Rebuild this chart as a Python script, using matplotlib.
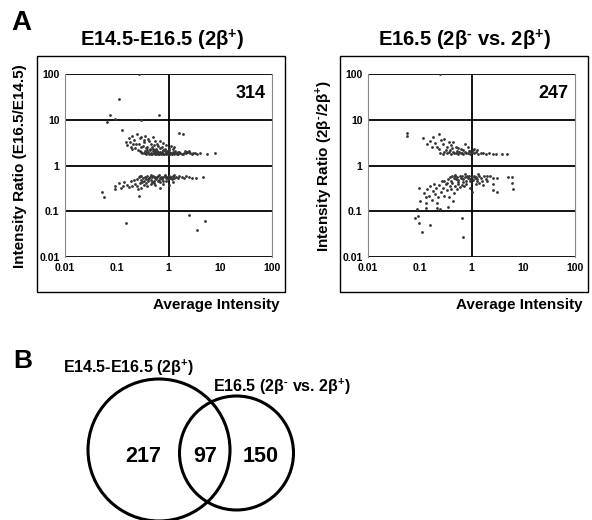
import matplotlib
matplotlib.use('Agg')
import matplotlib.pyplot as plt
from matplotlib.patches import Circle, Rectangle

plt.rcParams['font.family'] = ['Liberation Sans', 'DejaVu Sans']
plt.rcParams['font.weight'] = 'bold'
plt.rcParams['mathtext.fontset'] = 'custom'
plt.rcParams['mathtext.rm'] = 'Liberation Sans:bold'
plt.rcParams['mathtext.bf'] = 'Liberation Sans:bold'

# ---- data ----
decades = [0.01, 0.1, 1, 10, 100]
decade_labels = ['0.01', '0.1', '1', '10', '100']

# panel 1: E14.5-E16.5 (2b+), (average intensity, ratio)
left_up = [
    (0.27, 100), (0.11, 28), (0.074, 12.8), (0.065, 9.0), (0.092, 10.5), (0.29, 10.0),
    (0.66, 12.8), (0.126, 6.1), (1.6, 5.2), (1.9, 5.0),
    (0.15, 3.3), (0.17, 4.0), (0.18, 3.2), (0.19, 2.6), (0.2, 4.5), (0.2, 2.3), (0.22, 3.6),
    (0.23, 2.4), (0.24, 2.9), (0.25, 4.8), (0.26, 2.2), (0.27, 3.0), (0.28, 3.9), (0.3, 4.3),
    (0.3, 2.5), (0.32, 2.7), (0.33, 3.3), (0.35, 4.5), (0.36, 2.4), (0.38, 2.6), (0.4, 3.8),
    (0.42, 3.4), (0.45, 3.0), (0.48, 2.6), (0.5, 4.1), (0.52, 2.8), (0.55, 3.4), (0.6, 2.9),
    (0.62, 2.7), (0.7, 3.5), (0.75, 2.6), (0.8, 3.1), (0.9, 2.8), (1.1, 2.7), (1.3, 2.5),
    (0.16, 2.8), (0.21, 3.0), (0.34, 3.7), (0.44, 2.3), (0.58, 2.3), (0.68, 2.4), (0.85, 2.3),
    (1.0, 2.4), (1.2, 2.3),
    (0.3, 2.0), (0.33, 1.9), (0.35, 2.1), (0.37, 1.85), (0.4, 2.0), (0.42, 1.8), (0.44, 2.15),
    (0.46, 1.9), (0.48, 1.8), (0.5, 2.05), (0.52, 1.85), (0.55, 1.95), (0.58, 1.8), (0.6, 2.1),
    (0.63, 1.9), (0.66, 1.8), (0.7, 2.0), (0.73, 1.85), (0.76, 1.95), (0.8, 1.8), (0.84, 2.05),
    (0.88, 1.85), (0.92, 1.9), (0.96, 1.8), (1.0, 2.0), (1.05, 1.85), (1.1, 1.9), (1.15, 1.8),
    (1.2, 2.0), (1.3, 1.85), (1.4, 1.9), (1.5, 1.8), (1.6, 1.95), (1.7, 1.85), (1.8, 1.8),
    (2.0, 1.9), (2.2, 1.85), (2.4, 2.0), (2.6, 1.85), (2.8, 1.8), (3.0, 1.9), (3.5, 1.8),
    (4.0, 1.85), (5.5, 1.8), (8.0, 1.85), (2.5, 2.1), (3.2, 1.9),
    (0.36, 1.75), (0.45, 1.75), (0.54, 1.75), (0.62, 1.75), (0.72, 1.78), (0.82, 1.75),
    (0.9, 1.78), (1.08, 1.75), (1.25, 1.78), (1.45, 1.75), (1.9, 1.75), (0.38, 2.2), (0.5, 2.25),
    (0.56, 2.2), (0.64, 2.0), (0.78, 2.2), (0.94, 2.1), (1.02, 2.2), (1.35, 2.05), (1.55, 2.0),
    (2.1, 2.05), (2.3, 1.95), (0.28, 2.1), (0.31, 1.85),
]
left_down = [
    (0.052, 0.26), (0.057, 0.2), (0.27, 0.22), (0.15, 0.055), (2.49, 0.082), (5.0, 0.061),
    (3.5, 0.039), (4.6, 0.55), (3.4, 0.52), (0.093, 0.35), (0.093, 0.3), (0.68, 0.32),
    (0.11, 0.42), (0.13, 0.36), (0.16, 0.38), (0.19, 0.45), (0.2, 0.35), (0.23, 0.4), (0.12, 0.33),
    (0.14, 0.44), (0.17, 0.34), (0.22, 0.48), (0.25, 0.36), (0.28, 0.42), (0.3, 0.33), (0.33, 0.38),
    (0.38, 0.35), (0.45, 0.4), (0.55, 0.38), (0.8, 0.4), (1.0, 0.38), (1.2, 0.43), (0.26, 0.3),
    (0.25, 0.5), (0.27, 0.55), (0.29, 0.48), (0.3, 0.58), (0.32, 0.52), (0.34, 0.46), (0.35, 0.56),
    (0.37, 0.5), (0.39, 0.6), (0.4, 0.45), (0.42, 0.53), (0.44, 0.57), (0.46, 0.49), (0.48, 0.55),
    (0.5, 0.6), (0.52, 0.47), (0.54, 0.52), (0.56, 0.57), (0.58, 0.5), (0.6, 0.55), (0.63, 0.6),
    (0.66, 0.48), (0.7, 0.53), (0.73, 0.57), (0.76, 0.5), (0.8, 0.55), (0.84, 0.6), (0.88, 0.52),
    (0.92, 0.56), (0.96, 0.5), (1.0, 0.58), (1.05, 0.53), (1.1, 0.56), (1.15, 0.5), (1.2, 0.6),
    (1.3, 0.54), (1.4, 0.57), (1.5, 0.52), (1.6, 0.58), (1.8, 0.55), (2.0, 0.53), (2.2, 0.58),
    (2.5, 0.55), (2.8, 0.54), (0.31, 0.44), (0.36, 0.42), (0.41, 0.5), (0.47, 0.44), (0.53, 0.42),
    (0.62, 0.45), (0.68, 0.43), (0.78, 0.46), (0.9, 0.47), (0.28, 0.6), (0.45, 0.62), (0.65, 0.62),
    (0.86, 0.63), (1.25, 0.62),
]

# panel 2: E16.5 (2b- vs. 2b+)
right_up = [
    (0.25, 100), (0.057, 5.2), (0.057, 4.5), (0.236, 5.0), (0.115, 3.9), (0.16, 3.5),
    (0.14, 3.0), (0.18, 4.2), (0.2, 3.1), (0.22, 2.6), (0.26, 3.6), (0.28, 2.9), (0.3, 3.8),
    (0.33, 2.5), (0.36, 3.2), (0.4, 2.8), (0.44, 3.3), (0.5, 2.6), (0.56, 2.4), (0.75, 3.0),
    (0.93, 2.1), (0.17, 2.5), (0.24, 2.3), (0.32, 2.2), (0.42, 2.4), (0.62, 2.3), (0.85, 2.5),
    (1.1, 2.3), (1.3, 2.2),
    (0.25, 1.9), (0.28, 1.8), (0.3, 2.0), (0.33, 1.85), (0.36, 1.95), (0.4, 1.8), (0.43, 2.0),
    (0.46, 1.85), (0.5, 1.9), (0.54, 1.8), (0.58, 2.0), (0.62, 1.85), (0.66, 1.9), (0.7, 1.8),
    (0.75, 1.95), (0.8, 1.85), (0.86, 1.9), (0.92, 1.8), (1.0, 1.95), (1.1, 1.85), (1.2, 2.0),
    (1.35, 1.8), (1.5, 1.9), (1.7, 1.85), (1.9, 1.75), (2.2, 1.85), (2.6, 1.8), (3.0, 1.75),
    (3.8, 1.8), (4.9, 1.8), (0.38, 2.15), (0.52, 2.1), (0.68, 2.15), (0.88, 2.05), (1.05, 2.2),
]
right_down = [
    (0.081, 0.07), (0.092, 0.078), (0.095, 0.055), (0.11, 0.035), (0.16, 0.05), (0.66, 0.07),
    (0.68, 0.028), (0.088, 0.11), (0.097, 0.32), (0.1, 0.17), (0.13, 0.15), (0.135, 0.115),
    (0.22, 0.115), (0.25, 0.11), (0.35, 0.125),
    (2.28, 0.58), (2.6, 0.52), (3.1, 0.52), (6.0, 0.55), (6.0, 0.41), (6.4, 0.3), (3.1, 0.26),
    (2.6, 0.29), (2.6, 0.39), (5.0, 0.55),
    (0.12, 0.25), (0.13, 0.2), (0.14, 0.3), (0.15, 0.22), (0.16, 0.35), (0.17, 0.18), (0.18, 0.28),
    (0.19, 0.4), (0.2, 0.24), (0.21, 0.33), (0.23, 0.2), (0.24, 0.38), (0.26, 0.27), (0.28, 0.32),
    (0.3, 0.22), (0.32, 0.4), (0.34, 0.29), (0.36, 0.2), (0.38, 0.35), (0.4, 0.3), (0.42, 0.42),
    (0.45, 0.25), (0.48, 0.36), (0.52, 0.31), (0.56, 0.4), (0.6, 0.34), (0.65, 0.38), (0.72, 0.35),
    (0.8, 0.4), (0.95, 0.33), (1.0, 0.27), (1.2, 0.4), (1.4, 0.42), (1.7, 0.38), (2.0, 0.45),
    (0.27, 0.45), (0.44, 0.17), (0.22, 0.15),
    (0.35, 0.5), (0.38, 0.55), (0.4, 0.47), (0.42, 0.58), (0.45, 0.52), (0.48, 0.6), (0.5, 0.5),
    (0.53, 0.55), (0.56, 0.48), (0.6, 0.58), (0.63, 0.52), (0.66, 0.6), (0.7, 0.5), (0.74, 0.55),
    (0.78, 0.47), (0.82, 0.58), (0.86, 0.52), (0.9, 0.6), (0.95, 0.5), (1.0, 0.56), (1.05, 0.48),
    (1.1, 0.6), (1.15, 0.52), (1.2, 0.57), (1.3, 0.5), (1.4, 0.6), (1.5, 0.54), (1.6, 0.47),
    (1.75, 0.58), (1.9, 0.5), (2.0, 0.6), (0.3, 0.45), (0.33, 0.42), (0.55, 0.44), (0.68, 0.43),
    (0.92, 0.45), (1.25, 0.45), (0.47, 0.63), (0.75, 0.64), (1.35, 0.64),
]

PLUS = r'$^{+}$'
MINUS = r'$^{\text{-}}$'
panel_titles = ['E14.5-E16.5 (2β' + PLUS + ')', 'E16.5 (2β' + MINUS + ' vs. 2β' + PLUS + ')']
panel_ylabels = ['Intensity Ratio (E16.5/E14.5)', 'Intensity Ratio (2β' + MINUS + '/2β' + PLUS + ')']
panel_counts = ['314', '247']

venn_labels = panel_titles
venn_counts = [217, 97, 150]

# ---- figure ----
W, H = 592, 520
fig = plt.figure(figsize=(W / 100, H / 100), dpi=100)

# pixel canvas for boxes, labels and venn
canvas = fig.add_axes([0, 0, 1, 1])
canvas.set_xlim(0, W)
canvas.set_ylim(H, 0)
canvas.axis('off')

panels = [
    (left_up + left_down, 65, 37),
    (right_up + right_down, 368, 340),
]

for i, (pts, inner_x, box_x) in enumerate(panels):
    ax = fig.add_axes([inner_x / W, 1 - 257 / H, 207 / W, 183 / H])
    ax.set_xscale('log')
    ax.set_yscale('log')
    ax.set_xlim(0.01, 100)
    ax.set_ylim(0.01, 100)
    xs = [p[0] for p in pts]
    ys = [p[1] for p in pts]
    ax.scatter(xs, ys, s=4, color='#333333', linewidths=0, zorder=3)

    ax.set_xticks(decades)
    ax.set_xticklabels(decade_labels)
    ax.set_yticks(decades)
    ax.set_yticklabels(decade_labels)
    ax.minorticks_off()
    ax.tick_params(length=0, labelsize=7.5, pad=4)
    for lab in ax.get_xticklabels() + ax.get_yticklabels():
        lab.set_fontweight('bold')
    for d in decades:
        ax.axhline(d, color='black', lw=1.3, zorder=2)
    ax.axvline(1, color='black', lw=1.3, zorder=2)
    ax.spines[['left', 'right']].set_color('#888888')
    ax.spines[['left', 'right']].set_linewidth(0.8)
    ax.spines[['top', 'bottom']].set_visible(False)
    ax.text(0.97, 0.94, panel_counts[i], transform=ax.transAxes, ha='right', va='top',
            fontsize=13, fontweight='bold')

    # outer frame
    canvas.add_patch(Rectangle((box_x, 56), 248, 236, fill=False, ec='black', lw=1.0))
    canvas.text(box_x + 125, 40, panel_titles[i], ha='center', va='center',
                fontsize=14.5, fontweight='bold')
    canvas.text(box_x - 17, 166, panel_ylabels[i], ha='center', va='center',
                rotation=90, fontsize=11, fontweight='bold')
    canvas.text(box_x + 179, 305, 'Average Intensity', ha='center', va='center',
                fontsize=11, fontweight='bold')

canvas.text(11, 23, 'A', ha='left', va='center', fontsize=20, fontweight='bold')
canvas.text(13, 361, 'B', ha='left', va='center', fontsize=19, fontweight='bold')

# venn diagram
canvas.add_patch(Circle((159, 450), 71, fill=False, ec='black', lw=2.2))
canvas.add_patch(Circle((236.5, 453), 57, fill=False, ec='black', lw=2.2))
canvas.text(63, 368, venn_labels[0], ha='left', va='center', fontsize=11.5, fontweight='bold')
canvas.text(213, 387, venn_labels[1], ha='left', va='center', fontsize=11.5, fontweight='bold')
for cx, n in zip([143, 205, 261], venn_counts):
    canvas.text(cx, 456, str(n), ha='center', va='center', fontsize=15.5, fontweight='bold')

fig.savefig('out.png', dpi=100)
